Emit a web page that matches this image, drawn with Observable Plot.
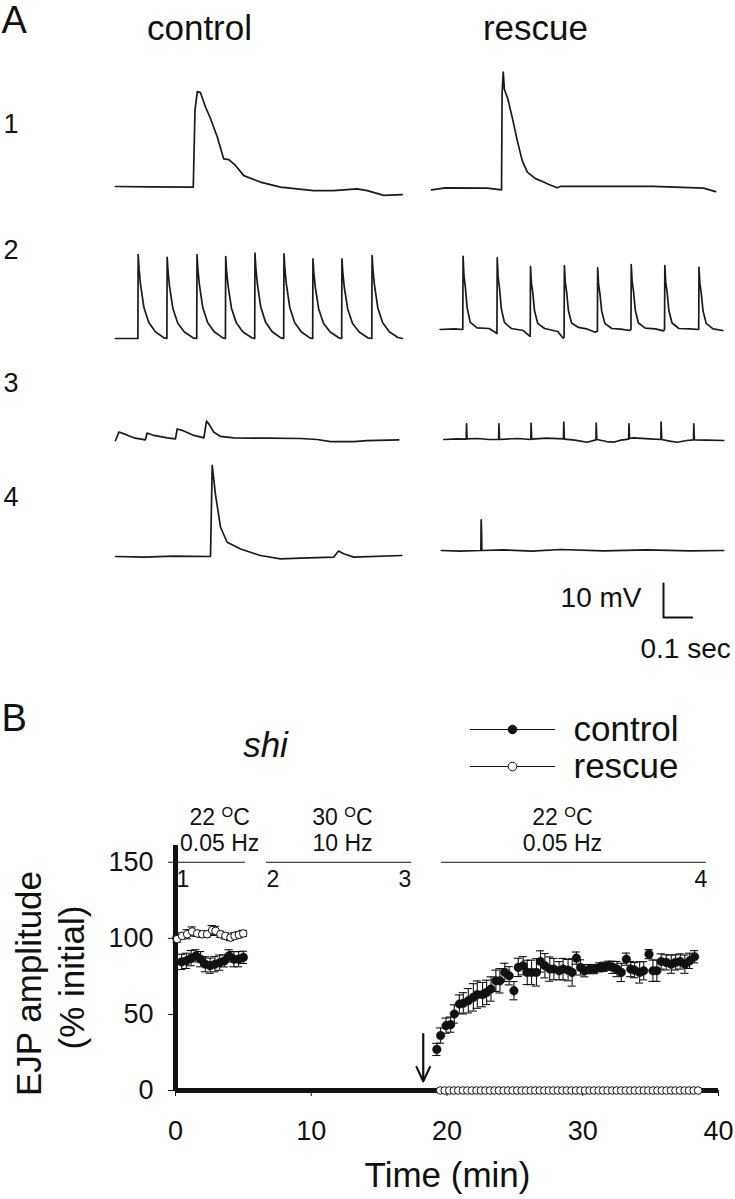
<!DOCTYPE html>
<html><head><meta charset="utf-8">
<script src="https://cdn.jsdelivr.net/npm/d3@7"></script>
<script src="https://cdn.jsdelivr.net/npm/@observablehq/plot@0.6"></script>
<style>
html,body{margin:0;padding:0;background:#fff;}
#chart{width:735px;position:relative;}
svg{display:block;}
</style></head><body><div id="chart"></div>
<script>
// ---------------- DATA: panel A traces, [time (ms), membrane potential (mV, relative to baseline)] ----------------
const columns = ["control", "rescue"];
const rowsA = ["1", "2", "3", "4"];
const control1 = [[0,0],[122,-0.1],[271,-0.2],[277,22.6],[285,27.9],[296,27.6],[314,23.3],[331,20.0],[355,14.5],[377,8.1],[395,7.9],[418,6.2],[447,3.2],[505,1.3],[575,-0.2],[690,-1.2],[760,-1.2],[842,-0.7],[877,-1.2],[935,-2.6],[999,-2.4]];
const rescue1 = [[0,-0.4],[49,0.2],[194,0.1],[244,-0.4],[246,27.9],[250,34.2],[254,29.1],[266,26.4],[281,21.0],[299,14.1],[316,8.2],[334,4.8],[362,2.9],[391,1.9],[409,1.2],[438,0.2],[449,0.6],[599,0.6],[773,0.6],[948,0.1],[990,-0.9]];
const control2 = [[0,0],[78,0],[79,24.7],[82,20.5],[87,16.1],[99,9.1],[116,4.7],[139,2.0],[169,0.2],
 [179,0],[180,23.9],[183,19.8],[188,15.5],[200,8.8],[217,4.5],[240,1.9],[270,0.2],
 [283,0],[284,24.7],[287,20.5],[292,16.1],[304,9.1],[321,4.7],[344,2.0],[374,0.2],
 [383,0],[384,24.1],[387,20.0],[392,15.7],[404,8.9],[421,4.6],[444,1.9],[475,0.2],
 [485,0],[486,25.1],[489,20.8],[494,16.3],[506,9.3],[523,4.8],[546,2.0],[576,0.2],
 [586,0],[587,24.9],[590,20.7],[595,16.2],[607,9.2],[624,4.7],[647,2.0],[677,0.2],
 [687,0],[688,23.4],[691,19.4],[696,15.2],[708,8.7],[725,4.4],[748,1.9],[778,0.2],
 [788,0],[789,23.4],[792,19.4],[797,15.2],[809,8.7],[826,4.4],[849,1.9],[879,0.2],
 [893,0],[894,24.4],[897,20.3],[902,15.9],[914,9.0],[931,4.6],[954,2.0],[984,0.3],[1000,0]];
const rescue2 = [[30,0],[80,0.2],[109,0],[110,21.5],[113,16],[118,12.4],[124,6.5],[135,2.1],[159,0.5],[200,0.3],[222,-0.8],[228,-1.2],
 [229,21.1],[232,15.5],[237,12.2],[243,6.3],[254,2.1],[278,0.3],[320,-0.3],[340,-1.8],[344,-2.0],
 [345,18.5],[348,13.7],[353,10.7],[359,5.5],[370,1.8],[394,0.3],[440,-0.6],[458,-2.5],[462,-2.3],
 [463,18.8],[466,14],[471,10.9],[477,5.6],[488,1.9],[512,0.6],[540,0.2],[570,-0.8],[578,-0.5],
 [579,18.1],[582,13.4],[587,10.5],[593,5.4],[604,1.8],[628,0.3],[660,0.1],[690,-0.3],[695,0],
 [696,19.1],[699,14.2],[704,11.1],[710,5.7],[721,1.9],[745,0.4],[780,0.2],[808,-0.4],[812,0],
 [813,18.8],[816,14],[821,10.9],[827,5.6],[838,1.9],[862,0.3],[900,0.2],[931,0],
 [932,18.3],[935,13.6],[940,10.6],[946,5.5],[957,1.8],[981,0.2],[1015,-0.3]];
const control3 = [[0,-0.6],[12,1.9],[35,1.2],[64,0.2],[104,-0.4],[110,1.6],[134,0.9],[180,0.2],[209,-0.1],[215,2.8],[232,2.4],[273,0.9],[308,0.2],[317,5.1],[325,4.3],[342,1.9],[366,0.6],[412,0.2],[529,0.1],[645,0],[703,-0.3],[749,-0.9],[830,-0.9],[877,-0.6],[987,-0.4]];
const rescue3 = [[43,0],[90,0.2],[121,0.1],[122,4.6],[124,0.2],[160,0.3],[200,0],[234,0],[235,4.6],[237,0],[300,0.3],[346,0],[347,4.8],[349,0.1],[400,0.4],[460,0.2],[461,5.1],[463,0.1],[500,-0.2],[542,-0.8],[573,-0.1],[574,4.8],[576,0],[610,-0.6],[634,-0.8],[660,-0.2],[687,0.1],[688,4.6],[690,0.3],[704,0.5],[760,0.2],[799,0],[800,5.1],[802,0],[830,-0.5],[856,-0.8],[890,-0.3],[913,-0.1],[914,4.6],[916,-0.1],[960,-0.2],[1018,-0.3]];
const control4 = [[0,0],[100,-0.2],[200,0.1],[331,0],[337,26.8],[348,18.4],[366,8.6],[389,4.2],[436,2.2],[505,0.3],[575,-0.7],[644,-0.5],[760,-0.2],[777,1.6],[795,0.8],[830,-0.2],[998,0.3]];
const rescue4 = [[34,0],[100,-0.2],[172,0],[173,9.0],[174.5,5.5],[175.5,0],[250,0.2],[350,-0.2],[450,0.3],[600,-0.1],[750,0.2],[900,-0.1],[1018,0]];
const scaleBarMv = 10, scaleBarMs = 100;
const scaleBarLabels = ["10 mV", "0.1 sec"];

// ---------------- DATA: panel B, EJP amplitude (% initial) vs time (min) ----------------
const ctrlTime1 = [0.1,0.45,0.8,1.15,1.5,1.85,2.2,2.55,2.9,3.25,3.6,3.95,4.3,4.65,5.0];
const ctrlAmp1  = [100,84.5,85.2,87,88.5,86.3,83,82,83,84,85.2,88.5,86.3,86.3,87.5];
const ctrlErr1  = [0,5,5,5,4,5,5,5,5,5,4,4,5,5,4];
const resTime1  = [0.12,0.49,0.86,1.23,1.6,1.97,2.33,2.7,2.95,3.31,3.68,4.05,4.35,4.67,4.99];
const resAmp1   = [99.5,101.6,102.7,104.5,103.2,102.7,102.7,105.4,104.9,102.7,101.6,100.5,101.6,102.3,103.2];
const resErr1   = [2,2,3,3,2,2,2,3,3,2,2,2,2,2,2];
const ctrlTime3 = [19.25,19.53,19.93,20.27,20.54,20.91,21.2,21.57,21.94,22.23,22.62,22.92,23.24,23.6,23.9,24.26,24.58,24.93,25.25,25.61,25.91,26.23,26.59,26.89,27.21,27.57,27.87,28.26,28.55,28.92,29.22,29.53,29.83,30.15,30.51,30.88,31.25,31.57,31.93,32.23,32.52,32.84,33.21,33.53,33.82,34.19,34.49,34.88,35.17,35.46,35.78,36.15,36.52,36.84,37.18,37.52,37.87,38.24];
const ctrlAmp3  = [27,36.1,42.6,43.3,50.3,56.8,57.3,59,61.2,63,63,64.5,66.7,72.1,72.1,77.6,75.4,65.6,80.9,82,77.6,77.6,77.6,84.8,82,79.8,79.8,78.7,79.8,79.1,77.6,87,80.9,78.7,79.8,79.8,80.9,81.3,82,80.9,79.8,77.6,86.3,79.8,79.1,77.6,78.7,89.6,78.7,78.7,84.8,84.2,83,84.2,84.8,83,85.2,87.9];
const ctrlErr3  = [4,5,5,5,6,6,7,8,9,9,8,8,8,7,8,6,6,6,6,6,8,8,9,7,8,8,7,6,7,7,9,4,5,4,3,3,3,3,3,4,5,6,4,5,5,7,6,3,7,7,5,5,6,5,5,6,5,4];
const resTime3  = [19.5,19.83,20.17,20.5,20.83,21.17,21.5,21.83,22.17,22.5,22.83,23.17,23.5,23.83,24.17,24.5,24.83,25.17,25.5,25.83,26.17,26.5,26.83,27.17,27.5,27.83,28.17,28.5,28.83,29.17,29.5,29.83,30.17,30.5,30.83,31.17,31.5,31.83,32.17,32.5,32.83,33.17,33.5,33.83,34.17,34.5,34.83,35.17,35.5,35.83,36.17,36.5,36.83,37.17,37.5,37.83,38.17,38.5];
const resAmp3   = [0,0,0,0,0,0,0,0,0,0,0,0,0,0,0,0,0,0,0,0,0,0,0,0,0,0,0,0,0,0,0,0,0,0,0,0,0,0,0,0,0,0,0,0,0,0,0,0,0,0,0,0,0,0,0,0,0,0];
const xTicks = [0, 10, 20, 30, 40];
const yTicks = [0, 50, 100, 150];
const phaseStart = [0.2, 6.7, 19.6];
const phaseEnd   = [5.15, 17.4, 39.1];
const phaseLevel = 150;
const phaseTemp  = ["22 OC", "30 OC", "22 OC"];
const phaseFreq  = ["0.05 Hz", "10 Hz", "0.05 Hz"];
const phaseLabelAt = [3.25, 12.3, 28.5];
const traceMarks = ["1", "2", "3", "4"];
const traceMarkAt = [0.55, 7.17, 16.9, 38.7];
const arrowAt = 18.25;
const legendNames = ["control", "rescue"];

// ---------------- LAYOUT ----------------
const FONT = "'Liberation Sans', Arial, Helvetica, sans-serif";
const INK = "#111";
const LA = {w: 735, h: 690, pxPerMs: 0.287, pxPerMv: 3.4, colX: {control: 115, rescue: 431},
  basePx: {control1:186, rescue1:188, control2:338, rescue2:329, control3:438, rescue3:439, control4:556, rescue4:550}};
const traceData = {control1, rescue1, control2, rescue2, control3, rescue3, control4, rescue4};

const rowsTrace = [];
for (const col of columns) for (const r of rowsA) {
  const id = col + r;
  const xOff = (LA.colX[col] - LA.colX.control) / LA.pxPerMs;
  const yOff = (LA.h - LA.basePx[id]) / LA.pxPerMv;
  for (const [t, v] of traceData[id]) rowsTrace.push({id, x: t + xOff, y: v + yOff});
}
const sbX = (663 - LA.colX.control) / LA.pxPerMs, sbY = (LA.h - 617) / LA.pxPerMv;
const scaleBar = [{x: sbX, y: sbY + scaleBarMv}, {x: sbX, y: sbY}, {x: sbX + scaleBarMs, y: sbY}];

function labA(str, px, py, o = {}) {
  return Plot.text([str], {text: d => d, frameAnchor: "top-left", dx: px, dy: py, fill: INK, fontFamily: FONT,
    textAnchor: "middle", lineAnchor: "middle", ...o});
}

const plotA = Plot.plot({
  width: LA.w, height: LA.h, margin: 0,
  x: {domain: [-LA.colX.control / LA.pxPerMs, (LA.w - LA.colX.control) / LA.pxPerMs], axis: null},
  y: {domain: [0, LA.h / LA.pxPerMv], axis: null},
  style: {fontFamily: FONT, background: "white"},
  marks: [
    Plot.line(rowsTrace, {x: "x", y: "y", z: "id", stroke: "#1a1a1a", strokeWidth: 1.7, strokeLinejoin: "round", curve: "linear"}),
    Plot.line(scaleBar, {x: "x", y: "y", stroke: INK, strokeWidth: 2}),
    labA("A", 1, 20, {fontSize: 38, textAnchor: "start"}),
    labA(columns[0], 199, 28, {fontSize: 35}),
    labA(columns[1], 535, 28, {fontSize: 35}),
    labA(rowsA[0], 3, 124, {fontSize: 27, textAnchor: "start"}),
    labA(rowsA[1], 3, 250, {fontSize: 27, textAnchor: "start"}),
    labA(rowsA[2], 3, 383, {fontSize: 27, textAnchor: "start"}),
    labA(rowsA[3], 3, 497, {fontSize: 27, textAnchor: "start"}),
    labA(scaleBarLabels[0], 641, 598, {fontSize: 28, textAnchor: "end"}),
    labA(scaleBarLabels[1], 640, 649, {fontSize: 28, textAnchor: "start"})
  ]
});

// ---- panel B ----
const LB = {w: 735, h: 509, top: 690, ml: 175, mr: 17, mt: 155, mb: 109, yMax: 161};
const pxX = px => (px - LB.ml) / ((LB.w - LB.ml - LB.mr) / 40);
const pyY = py => (LB.top + LB.h - LB.mb - py) / ((LB.h - LB.mt - LB.mb) / LB.yMax);

const ctrl = [...ctrlTime1.map((t, i) => ({t, v: ctrlAmp1[i], e: ctrlErr1[i]})),
              ...ctrlTime3.map((t, i) => ({t, v: ctrlAmp3[i], e: ctrlErr3[i]}))];
const resc = [...resTime1.map((t, i) => ({t, v: resAmp1[i], e: resErr1[i]})),
              ...resTime3.map((t, i) => ({t, v: resAmp3[i], e: 0}))];
const errs = [...ctrl, ...resc].filter(d => d.e > 0);
const phases = phaseStart.map((s, i) => ({s, e: phaseEnd[i], temp: phaseTemp[i], freq: phaseFreq[i], at: phaseLabelAt[i]}));
const marksN = traceMarks.map((m, i) => ({m, t: traceMarkAt[i]}));
const legend = legendNames.map((n, i) => ({n, py: [729, 766][i], fill: i === 0 ? INK : "white"}));
const capW = 0.3;

function labB(str, px, py, o = {}) {
  return Plot.text([str], {text: d => d, frameAnchor: "top-left", dx: px - LB.ml, dy: py - LB.top - LB.mt, fill: INK, fontFamily: FONT,
    textAnchor: "middle", lineAnchor: "middle", ...o});
}

const plotB = Plot.plot({
  width: LB.w, height: LB.h, marginLeft: LB.ml, marginRight: LB.mr, marginTop: LB.mt, marginBottom: LB.mb,
  x: {domain: [0, 40]},
  y: {domain: [0, LB.yMax]},
  style: {fontFamily: FONT, fontSize: "27px", color: INK, background: "white"},
  marks: [
    Plot.axisY({ticks: yTicks, tickSize: 7, tickPadding: 15, label: null, fontSize: 27}),
    Plot.axisX({ticks: xTicks, tickSize: 6, tickPadding: 24, label: null, fontSize: 27}),
    Plot.ruleX([0], {y1: 0, y2: LB.yMax, stroke: INK, strokeWidth: 5}),
    Plot.ruleY([0], {x1: 0, x2: 40, stroke: INK, strokeWidth: 5}),
    // phase bars and labels
    Plot.ruleY(phases, {y: phaseLevel, x1: "s", x2: "e", stroke: INK, strokeWidth: 1.2}),
    Plot.text(phases, {x: "at", y: pyY(817), text: "temp", fontSize: 23, fill: INK, fontFamily: FONT}),
    Plot.text(phases, {x: "at", y: pyY(843), text: "freq", fontSize: 23, fill: INK, fontFamily: FONT}),
    Plot.text(marksN, {x: "t", y: pyY(879), text: "m", fontSize: 23, fill: INK, fontFamily: FONT}),
    // error bars
    Plot.ruleX(errs, {x: "t", y1: d => d.v - d.e, y2: d => d.v + d.e, stroke: INK, strokeWidth: 1.1}),
    Plot.ruleY(errs, {y: d => d.v - d.e, x1: d => d.t - capW, x2: d => d.t + capW, stroke: INK, strokeWidth: 1.1}),
    Plot.ruleY(errs, {y: d => d.v + d.e, x1: d => d.t - capW, x2: d => d.t + capW, stroke: INK, strokeWidth: 1.1}),
    // data
    Plot.dot(ctrl, {x: "t", y: "v", r: 4.3, fill: INK, stroke: INK, strokeWidth: 0.5}),
    Plot.dot(resc, {x: "t", y: "v", r: 3.8, fill: "white", stroke: INK, strokeWidth: 1}),
    // arrow
    Plot.arrow([arrowAt], {x1: d => d, x2: d => d, y1: 37, y2: 6, stroke: INK, strokeWidth: 2.2, headLength: 14, headAngle: 50}),
    // legend
    Plot.ruleY(legend, {y: d => pyY(d.py), x1: pxX(470), x2: pxX(555), stroke: INK, strokeWidth: 1.2}),
    Plot.dot(legend, {x: pxX(512), y: d => pyY(d.py), r: 4.3, fill: "fill", stroke: INK, strokeWidth: 1}),
    Plot.text(legend, {x: pxX(573), y: d => pyY(d.py), text: "n", textAnchor: "start", fontSize: 35, fill: INK, fontFamily: FONT}),
    // labels
    labB("B", 1, 718, {fontSize: 38, textAnchor: "start"}),
    labB("shi", 265, 745, {fontSize: 35, fontStyle: "italic"}),
    labB("EJP amplitude", 29, 983, {fontSize: 35, rotate: -90}),
    labB("(% initial)", 72, 977, {fontSize: 35, rotate: -90}),
    labB("Time (min)", 447, 1175, {fontSize: 35})
  ]
});

// superscript "O" in the temperature labels
d3.select(plotB).selectAll("text").each(function () {
  const m = (this.textContent || "").match(/^(\d+) OC$/);
  if (!m || this.children.length) return;
  const s = d3.select(this);
  s.text(null);
  s.append("tspan").text(m[1] + " ");
  s.append("tspan").attr("font-size", 15).attr("dy", -8).text("O");
  s.append("tspan").attr("dy", 8).text("C");
});

const root = document.getElementById("chart");
root.appendChild(plotA);
root.appendChild(plotB);
</script></body></html>
